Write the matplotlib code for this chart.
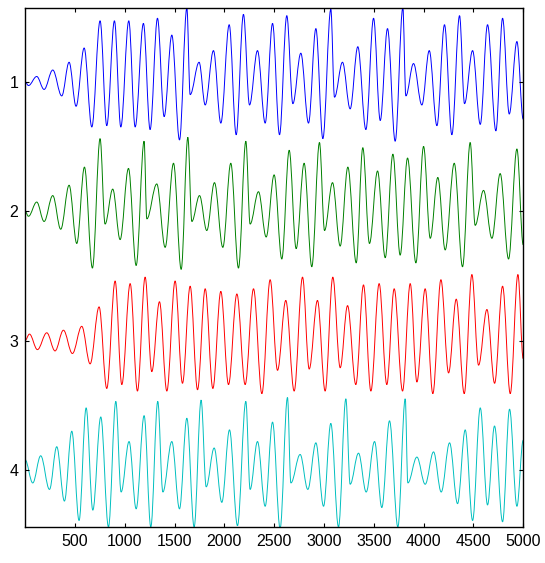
import matplotlib
matplotlib.use("Agg")
import matplotlib.pyplot as plt
from matplotlib.path import Path
from matplotlib.patches import PathPatch

x1 = [0, 34, 117, 191, 278, 368, 442, 512, 593, 670, 753, 820, 897, 961, 1041, 1105, 1188, 1255, 1329, 1396,
      1473, 1550, 1624, 1657, 1747, 1808, 1891, 1965, 2049, 2119, 2192, 2253, 2333, 2410, 2484, 2554, 2627, 2688,
      2768, 2845, 2919, 2989, 3069, 3106, 3186, 3263, 3340, 3421, 3498, 3565, 3638, 3715, 3792, 3822, 3899, 3983,
      4057, 4134, 4210, 4284, 4361, 4411, 4492, 4569, 4642, 4726, 4793, 4860, 4937, 5000]
y1 = [0, -0.03, 0.04, -0.06, 0.09, -0.11, 0.15, -0.19, 0.26, -0.35, 0.47, -0.34, 0.47, -0.35, 0.47, -0.35, 0.45,
      -0.37, 0.49, -0.27, 0.36, -0.45, 0.57, -0.10, 0.15, -0.18, 0.24, -0.32, 0.44, -0.41, 0.52, -0.18, 0.24,
      -0.32, 0.45, -0.41, 0.51, -0.17, 0.22, -0.32, 0.41, -0.44, 0.56, -0.12, 0.15, -0.21, 0.27, -0.37, 0.49,
      -0.30, 0.41, -0.46, 0.57, -0.11, 0.14, -0.18, 0.24, -0.34, 0.44, -0.41, 0.51, -0.17, 0.24, -0.33, 0.44,
      -0.38, 0.49, -0.25, 0.31, -0.29]

x2 = [0, 34, 117, 191, 278, 358, 442, 519, 596, 676, 753, 803, 880, 954, 1038, 1115, 1195, 1222, 1322, 1406,
      1490, 1567, 1634, 1674, 1751, 1824, 1901, 1985, 2065, 2142, 2216, 2259, 2343, 2420, 2500, 2577, 2651, 2721,
      2801, 2878, 2955, 3006, 3086, 3163, 3240, 3324, 3390, 3457, 3538, 3615, 3692, 3765, 3839, 3923, 4000, 4067,
      4143, 4217, 4308, 4391, 4468, 4518, 4602, 4686, 4769, 4853, 4937, 5000]
y2 = [0, -0.04, 0.07, -0.08, 0.12, -0.14, 0.20, -0.25, 0.34, -0.44, 0.56, -0.10, 0.17, -0.22, 0.33, -0.42, 0.54,
      -0.06, 0.21, -0.28, 0.37, -0.45, 0.57, -0.08, 0.12, -0.15, 0.22, -0.28, 0.37, -0.44, 0.54, -0.10, 0.15,
      -0.20, 0.28, -0.37, 0.47, -0.29, 0.37, -0.43, 0.53, -0.15, 0.22, -0.27, 0.34, -0.40, 0.49, -0.25, 0.31,
      -0.36, 0.44, -0.34, 0.41, -0.40, 0.50, -0.21, 0.26, -0.30, 0.37, -0.43, 0.53, -0.11, 0.16, -0.21, 0.29,
      -0.37, 0.48, -0.26]

x3 = [0, 44, 124, 218, 301, 385, 475, 569, 653, 743, 820, 904, 971, 1055, 1128, 1205, 1272, 1349, 1423, 1506,
      1580, 1657, 1731, 1808, 1885, 1965, 2042, 2126, 2209, 2293, 2377, 2460, 2534, 2617, 2701, 2785, 2852, 2935,
      3012, 3089, 3163, 3237, 3320, 3397, 3471, 3554, 3631, 3705, 3789, 3866, 3933, 4016, 4093, 4174, 4251, 4328,
      4408, 4485, 4552, 4636, 4713, 4793, 4870, 4947, 5000]
y3 = [0, 0.05, -0.07, 0.06, -0.08, 0.08, -0.10, 0.11, -0.18, 0.26, -0.37, 0.46, -0.34, 0.44, -0.39, 0.49, -0.24,
      0.30, -0.39, 0.46, -0.33, 0.42, -0.38, 0.40, -0.37, 0.38, -0.34, 0.36, -0.34, 0.40, -0.41, 0.47, -0.23,
      0.31, -0.39, 0.49, -0.22, 0.31, -0.39, 0.49, -0.21, 0.27, -0.34, 0.43, -0.39, 0.44, -0.34, 0.40, -0.39,
      0.44, -0.32, 0.40, -0.41, 0.47, -0.25, 0.32, -0.41, 0.51, -0.19, 0.24, -0.33, 0.42, -0.41, 0.51, -0.14]

x4 = [0, 77, 157, 245, 318, 395, 469, 542, 613, 680, 760, 837, 911, 964, 1044, 1115, 1195, 1262, 1332, 1383,
      1473, 1550, 1624, 1697, 1767, 1818, 1898, 1975, 2052, 2132, 2216, 2259, 2333, 2410, 2484, 2560, 2634, 2668,
      2761, 2838, 2919, 2996, 3069, 3146, 3220, 3263, 3347, 3424, 3508, 3581, 3658, 3742, 3816, 3842, 3933, 4016,
      4100, 4177, 4261, 4341, 4418, 4492, 4569, 4642, 4712, 4793, 4863, 4937, 5000]
y4 = [0.08, -0.10, 0.11, -0.15, 0.18, -0.24, 0.30, -0.39, 0.48, -0.31, 0.41, -0.44, 0.53, -0.17, 0.22, -0.30,
      0.42, -0.44, 0.53, -0.17, 0.22, -0.30, 0.40, -0.44, 0.54, -0.13, 0.17, -0.25, 0.31, -0.43, 0.53, -0.15,
      0.22, -0.28, 0.37, -0.45, 0.56, -0.10, 0.12, -0.15, 0.21, -0.28, 0.36, -0.44, 0.55, -0.11, 0.13, -0.17,
      0.22, -0.29, 0.38, -0.44, 0.55, -0.10, 0.10, -0.11, 0.14, -0.17, 0.21, -0.26, 0.31, -0.39, 0.48, -0.27,
      0.34, -0.40, 0.47, -0.28, 0.23]

channels = [1, 2, 3, 4]
xticks = [500, 1000, 1500, 2000, 2500, 3000, 3500, 4000, 4500, 5000]
colors = ['#0000ff', '#008000', '#ff0000', '#00bfbf']

plt.rcParams['font.family'] = ['Liberation Sans', 'DejaVu Sans']


def smooth_path(xs, ys):
    # cubic segments with flat tangents at each turning point
    verts = [(xs[0], ys[0])]
    codes = [Path.MOVETO]
    for i in range(1, len(xs)):
        dx = xs[i] - xs[i - 1]
        verts += [(xs[i - 1] + 0.36 * dx, ys[i - 1]), (xs[i] - 0.36 * dx, ys[i]), (xs[i], ys[i])]
        codes += [Path.CURVE4] * 3
    return Path(verts, codes)


fig = plt.figure(figsize=(5.45, 5.63), dpi=100)
ax = fig.add_axes([0.046, 0.064, 0.914, 0.922])

for ch, xs, ys, c in zip(channels, [x1, x2, x3, x4], [y1, y2, y3, y4], colors):
    p = smooth_path(xs, [ch - v for v in ys])
    ax.add_patch(PathPatch(p, facecolor='none', edgecolor=c, linewidth=0.7))

ax.set_xlim(0, 5000)
ax.set_ylim(4.44, 0.43)
ax.set_xticks(xticks)
ax.set_yticks(channels)
ax.tick_params(direction='in', length=3, width=0.8, top=True, right=True, labelsize=11.5, pad=5)
for s in ax.spines.values():
    s.set_linewidth(1.0)

fig.savefig('out.png', dpi=100)
